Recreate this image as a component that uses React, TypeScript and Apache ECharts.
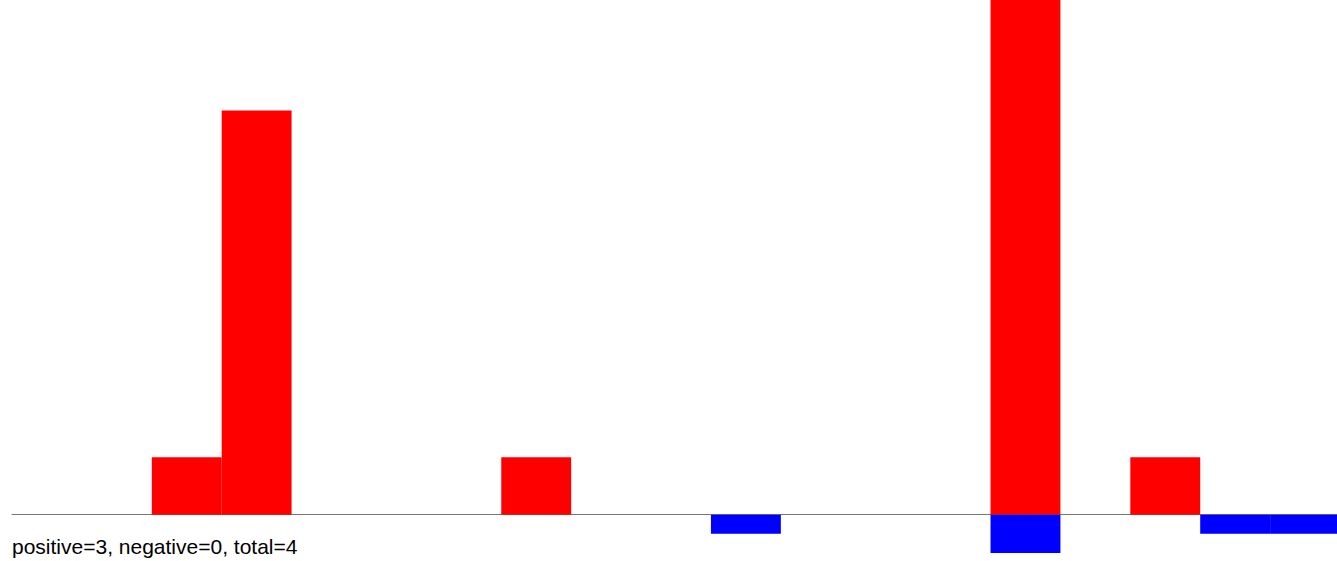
import React, { useEffect, useRef } from "react";
import * as echarts from "echarts";

const categories: string[] = Array.from({ length: 19 }, (_, i) => String(i));
const positiveValues: (number | null)[] = [0, 0, 3, 21.1, 0, 0, 0, 3, 0, 0, 0, 0, 0, 0, 30, 0, 3, 0, 0];
const negativeValues: (number | null)[] = [0, 0, 0, 0, 0, 0, 0, 0, 0, 0, -1, 0, 0, 0, -2, 0, 0, -1, -1];
const summaryText = "positive=3, negative=0, total=4";

export default function App() {
  const ref = useRef<HTMLDivElement>(null);
  useEffect(() => {
    if (!ref.current) return;
    const chart = echarts.init(ref.current, null, { renderer: "svg" });
    chart.setOption({
      animation: false,
      grid: { left: 12, top: 0, width: 1328, bottom: 0, containLabel: false },
      xAxis: {
        type: "category",
        data: categories,
        boundaryGap: true,
        axisTick: { show: false },
        axisLabel: { show: false },
        axisLine: { show: true, lineStyle: { color: "#777", width: 1 } },
        splitLine: { show: false },
      },
      yAxis: {
        type: "value",
        min: -2.42,
        max: 26.87,
        show: false,
        splitLine: { show: false },
      },
      series: [
        {
          type: "bar",
          stack: "s",
          data: positiveValues,
          barWidth: "100%",
          itemStyle: { color: "#ff0000" },
          clip: true,
        },
        {
          type: "bar",
          stack: "s",
          data: negativeValues,
          barWidth: "100%",
          itemStyle: { color: "#0000ff" },
          clip: true,
        },
      ],
      graphic: [
        {
          type: "text",
          left: 12,
          top: 536,
          style: {
            text: summaryText,
            font: "21px 'Liberation Sans', Arial, sans-serif",
            fill: "#000",
          },
        },
      ],
    });
    return () => chart.dispose();
  }, []);
  return (
    <div
      style={{ position: "absolute", left: 0, top: 0, width: 1337, height: 561, overflow: "hidden" }}
    >
      <div ref={ref} style={{ width: 1350, height: 561 }} />
    </div>
  );
}
